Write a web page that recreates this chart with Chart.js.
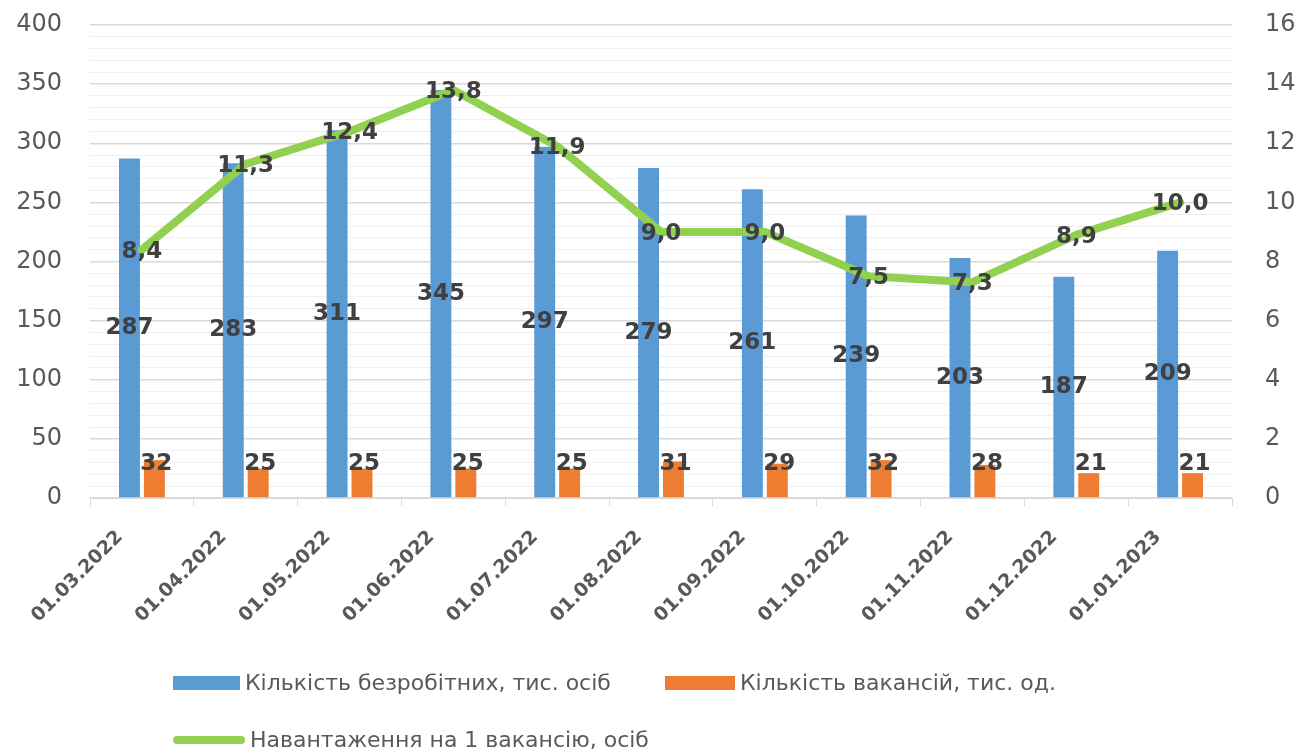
<!DOCTYPE html>
<html>
<head>
<meta charset="utf-8">
<script src="https://cdn.jsdelivr.net/npm/chart.js@4"></script>
<style>
  html, body { margin: 0; padding: 0; background: #fff; }
  #wrap { width: 1299px; height: 751px; position: relative; }
</style>
</head>
<body>
<div id="wrap"><canvas id="laborChart"></canvas></div>
<script>
// data
const dates = ['01.03.2022', '01.04.2022', '01.05.2022', '01.06.2022', '01.07.2022', '01.08.2022',
               '01.09.2022', '01.10.2022', '01.11.2022', '01.12.2022', '01.01.2023'];
const unemployed = [287, 283, 311, 345, 297, 279, 261, 239, 203, 187, 209];
const vacancies = [32, 25, 25, 25, 25, 31, 29, 32, 28, 21, 21];
const loadPerVacancy = [8.4, 11.3, 12.4, 13.8, 11.9, 9.0, 9.0, 7.5, 7.3, 8.9, 10.0];
const leftTicks = [0, 50, 100, 150, 200, 250, 300, 350, 400];
const rightTicks = [0, 2, 4, 6, 8, 10, 12, 14, 16];

const labelNames = ['Кількість безробітних, тис. осіб', 'Кількість вакансій, тис. од.', 'Навантаження на 1 вакансію, осіб'];

const gray = '#595959';
const dark = '#404040';

// value labels (like Excel data labels)
const valueLabels = {
    id: 'valueLabels',
    afterDatasetsDraw(chart) {
        const c = chart.ctx;
        c.save();
        c.font = 'bold 23px "DejaVu Sans"';
        c.fillStyle = dark;
        c.textAlign = 'center';
        c.textBaseline = 'middle';
        chart.data.datasets.forEach((ds, i) => {
            const meta = chart.getDatasetMeta(i);
            meta.data.forEach((el, j) => {
                const v = ds.data[j];
                if (ds.type === 'line') {
                    c.fillText(v.toFixed(1).replace('.', ','), el.x, el.y + 2);
                } else if (i === 0) {
                    c.fillText(String(v), el.x, (el.y + el.base) / 2);
                } else {
                    c.fillText(String(v), el.x + 2, Math.min(el.y + 12, el.base - 33));
                }
            });
        });
        c.restore();
    }
};

// legend in two rows, left aligned like the original
const bottomLegend = {
    id: 'bottomLegend',
    afterDraw(chart) {
        const c = chart.ctx;
        const ds = chart.data.datasets;
        c.save();
        c.font = '22px "DejaVu Sans"';
        c.fillStyle = gray;
        c.textBaseline = 'middle';
        // row 1
        c.fillStyle = ds[0].backgroundColor;
        c.fillRect(173, 676, 67, 14);
        c.fillStyle = gray;
        c.fillText(ds[0].label, 245, 684);
        c.fillStyle = ds[1].backgroundColor;
        c.fillRect(665, 676, 70, 14);
        c.fillStyle = gray;
        c.fillText(ds[1].label, 740, 684);
        // row 2
        c.strokeStyle = ds[2].borderColor;
        c.lineWidth = 8;
        c.lineCap = 'round';
        c.beginPath();
        c.moveTo(177, 740);
        c.lineTo(241, 740);
        c.stroke();
        c.fillStyle = gray;
        c.fillText(ds[2].label, 250, 741);
        c.restore();
    }
};

const ctx = document.getElementById('laborChart').getContext('2d');
const laborChart = new Chart(ctx, {
    data: {
        labels: dates,
        datasets: [{
            type: 'bar',
            label: labelNames[0],
            data: unemployed,
            backgroundColor: '#5B9BD5',
            categoryPercentage: 0.48,
            barPercentage: 0.84,
            yAxisID: 'y',
            order: 1
        }, {
            type: 'bar',
            label: labelNames[1],
            data: vacancies,
            backgroundColor: '#ED7D31',
            categoryPercentage: 0.48,
            barPercentage: 0.84,
            yAxisID: 'y',
            order: 1
        }, {
            type: 'line',
            label: labelNames[2],
            data: loadPerVacancy,
            borderColor: '#92D050',
            backgroundColor: '#92D050',
            borderWidth: 8,
            pointRadius: 0,
            tension: 0,
            borderJoinStyle: 'round',
            borderCapStyle: 'round',
            yAxisID: 'y1',
            order: 0
        }]
    },
    options: {
        responsive: true,
        maintainAspectRatio: false,
        animation: false,
        layout: {
            padding: { top: 25, bottom: 118, left: 0, right: 0 }
        },
        scales: {
            x: {
                grid: {
                    drawOnChartArea: false,
                    drawTicks: true,
                    tickLength: 8,
                    color: '#d9d9d9'
                },
                border: { display: true, color: '#d9d9d9', width: 1 },
                ticks: {
                    minRotation: 45,
                    maxRotation: 45,
                    padding: 20,
                    labelOffset: -22,
                    color: gray,
                    font: { family: 'DejaVu Sans', size: 19, weight: 'bold' }
                },
                afterFit(axis) { axis.height = 135; }
            },
            y: {
                position: 'left',
                min: leftTicks[0],
                max: leftTicks[leftTicks.length - 1],
                border: { display: false },
                grid: {
                    drawTicks: false,
                    color: function(c) {
                        return leftTicks.includes(c.tick.value) ? '#d9d9d9' : '#efefef';
                    },
                    lineWidth: function(c) {
                        return leftTicks.includes(c.tick.value) ? 1.5 : 1;
                    }
                },
                ticks: {
                    stepSize: 10,
                    autoSkip: false,
                    padding: 28,
                    color: gray,
                    font: { family: 'DejaVu Sans', size: 24 },
                    callback: function(value) {
                        return leftTicks.includes(value) ? String(value) : '';
                    }
                },
                afterFit(axis) {
                    axis.width = 90;
                    axis.paddingTop = 0;
                    axis.paddingBottom = 0;
                }
            },
            y1: {
                position: 'right',
                min: rightTicks[0],
                max: rightTicks[rightTicks.length - 1],
                border: { display: false },
                grid: { display: false, drawTicks: false },
                ticks: {
                    stepSize: 2,
                    padding: 33,
                    color: gray,
                    font: { family: 'DejaVu Sans', size: 24 }
                },
                afterFit(axis) {
                    axis.width = 67;
                    axis.paddingTop = 0;
                    axis.paddingBottom = 0;
                }
            }
        },
        plugins: {
            legend: { display: false },
            tooltip: { enabled: false }
        }
    },
    plugins: [valueLabels, bottomLegend]
});
</script>
</body>
</html>
